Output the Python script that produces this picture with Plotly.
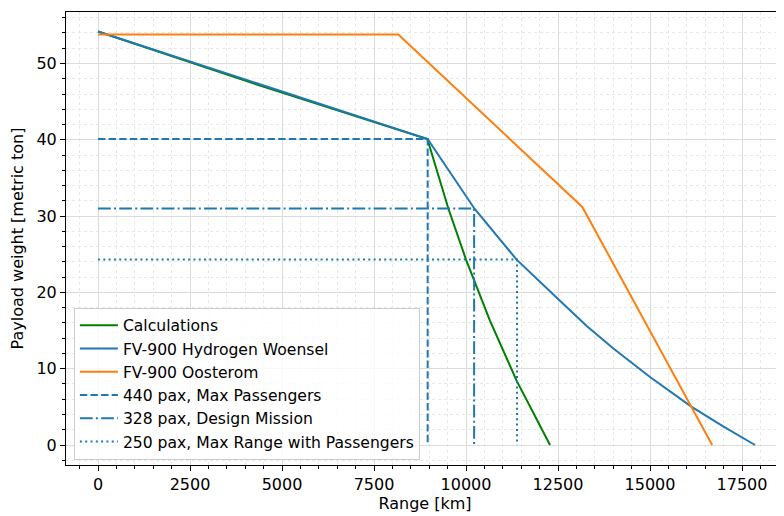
import plotly.graph_objects as go

# Payload-range data (range in km, payload in metric ton)
calc_range = [0, 4400, 8950, 9520, 10000, 10650, 11378, 12283]
calc_payload = [54.2, 47.1, 40.1, 31.0, 24.3, 16.3, 8.4, 0.0]

woensel_range = [0, 8958, 10226, 11376, 12509, 13280, 14004, 15018, 16132, 17000, 17853]
woensel_payload = [54.2, 40.1, 31.0, 24.3, 19.1, 15.6, 12.65, 8.85, 5.0, 2.4, 0.0]

oosterom_range = [0, 8160, 13160, 16690]
oosterom_payload = [53.8, 53.8, 31.2, 0.0]

# Reference missions: (payload, range)
mission_names = ["440 pax, Max Passengers", "328 pax, Design Mission",
                 "250 pax, Max Range with Passengers"]
mission_payload = [40.1, 31.0, 24.3]
mission_range = [8958, 10220, 11386]

x_ticks = [0, 2500, 5000, 7500, 10000, 12500, 15000, 17500]
y_ticks = [0, 10, 20, 30, 40, 50]

BLUE = "#1f77b4"
ORANGE = "#ff7f0e"
GREEN = "#008000"
LW = 2.0

fig = go.Figure()
fig.add_trace(go.Scatter(x=calc_range, y=calc_payload, mode="lines",
                         name="Calculations", line=dict(color=GREEN, width=LW)))
fig.add_trace(go.Scatter(x=woensel_range, y=woensel_payload, mode="lines",
                         name="FV-900 Hydrogen Woensel", line=dict(color=BLUE, width=LW)))
fig.add_trace(go.Scatter(x=oosterom_range, y=oosterom_payload, mode="lines",
                         name="FV-900 Oosterom", line=dict(color=ORANGE, width=LW)))

dashes = ["7.4px,3.2px", "12.8px,3.2px,2px,3.2px", "2px,3.3px"]
for name, p, r, d in zip(mission_names, mission_payload, mission_range, dashes):
    fig.add_trace(go.Scatter(x=[0, r, r], y=[p, p, 0], mode="lines", name=name,
                             line=dict(color=BLUE, width=LW, dash=d)))

font = dict(family="DejaVu Sans", size=16, color="black")
legend_font = dict(family="DejaVu Sans", size=15.6, color="black")

# the page puts the figure at an 8px offset; size and margins compensate for it
fig.update_layout(
    width=776, height=508,
    margin=dict(l=58, r=0, t=4, b=51),
    paper_bgcolor="white", plot_bgcolor="white",
    font=font,
    showlegend=True,
    legend=dict(x=0.011, y=0.012, xanchor="left", yanchor="bottom",
                bgcolor="rgba(255,255,255,0.8)", bordercolor="#cccccc", borderwidth=1,
                font=legend_font, tracegroupgap=0, itemwidth=38),
)

fig.update_xaxes(
    range=[-870, 18641], tickvals=x_ticks, ticktext=[str(v) for v in x_ticks],
    showline=True, linecolor="black", linewidth=1.1, mirror=True,
    ticks="outside", ticklen=5, tickwidth=1.1, tickcolor="black",
    showgrid=True, gridcolor="#dcdcdc", gridwidth=1, zeroline=False,
    minor=dict(dtick=500, ticks="outside", ticklen=3, tickcolor="black", tickwidth=0.8,
               showgrid=True, gridcolor="#e8e8e8", griddash="dot", gridwidth=0.8),
    title=dict(text="Range [km]", font=font, standoff=4),
    automargin=False,
)
fig.update_yaxes(
    range=[-2.62, 56.75], tickvals=y_ticks, ticktext=[str(v) for v in y_ticks],
    showline=True, linecolor="black", linewidth=1.1, mirror=False,
    ticks="outside", ticklen=5, tickwidth=1.1, tickcolor="black",
    showgrid=True, gridcolor="#dcdcdc", gridwidth=1, zeroline=False,
    minor=dict(dtick=2, ticks="outside", ticklen=3, tickcolor="black", tickwidth=0.8,
               showgrid=True, gridcolor="#e8e8e8", griddash="dot", gridwidth=0.8),
    title=dict(text="Payload weight [metric ton]", font=font, standoff=9),
    automargin=False,
)

fig.write_html("out.html")
